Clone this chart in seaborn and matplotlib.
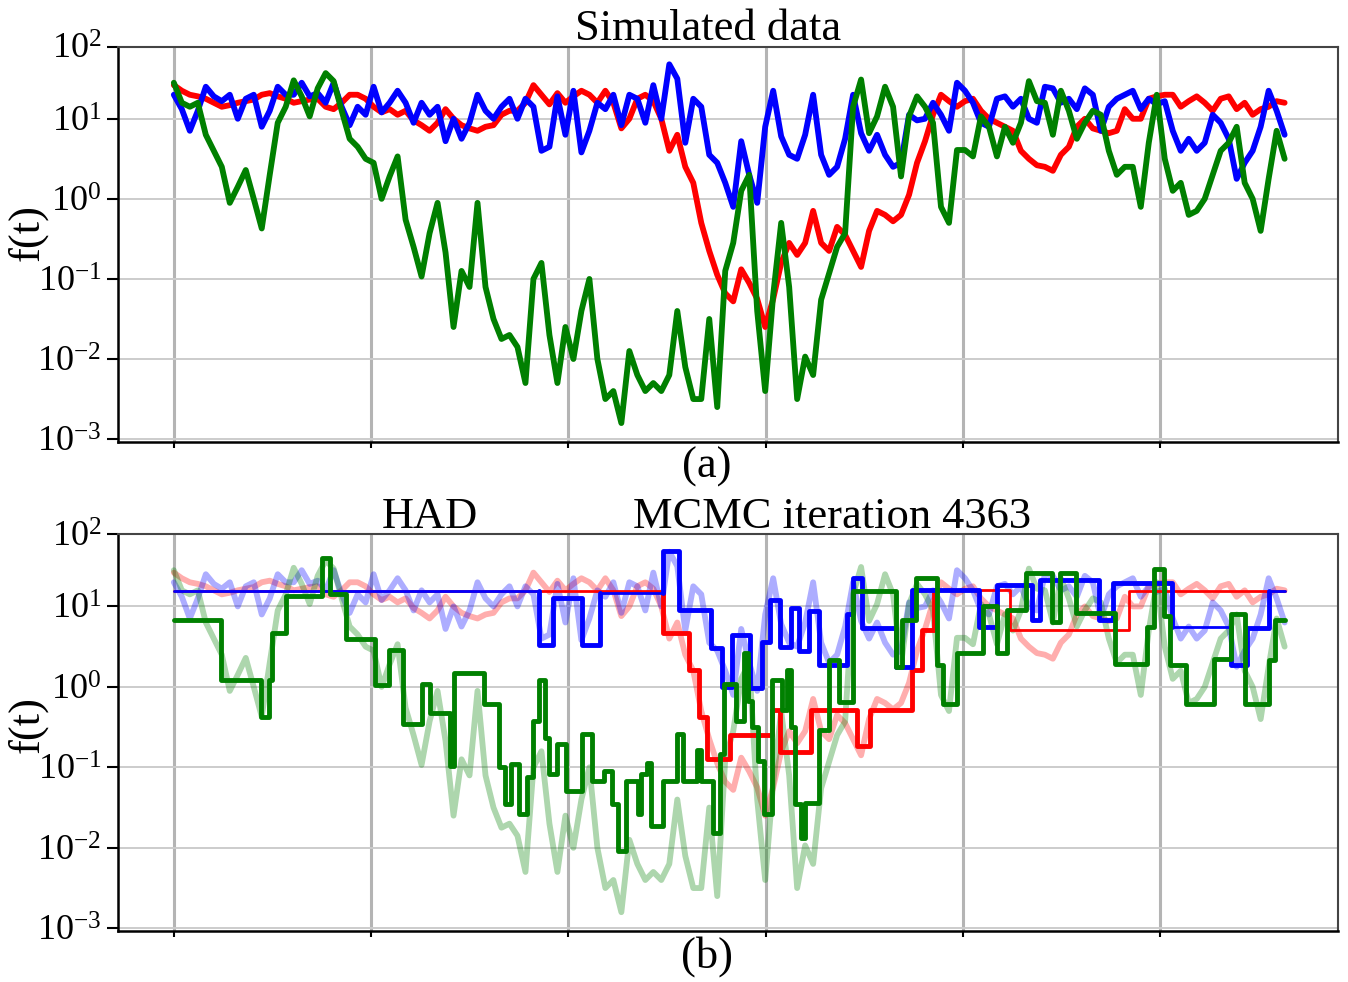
import numpy as np
import pandas as pd
import matplotlib
matplotlib.use("Agg")
import matplotlib.pyplot as plt
import seaborn as sns
from matplotlib.ticker import FixedLocator, FixedFormatter, NullFormatter, NullLocator

# ---------------- data (log10 of f(t)) ----------------
T_STEP = 40.5
N_POINTS = 140

red_log10 = [
    1.42, 1.35, 1.3, 1.28, 1.25, 1.2, 1.15, 1.17, 1.2, 1.22, 1.24, 1.3, 1.32, 1.28, 1.25, 1.2, 1.22, 1.24,
    1.25, 1.15, 1.12, 1.2, 1.3, 1.3, 1.25, 1.15, 1.08, 1.12, 1.05, 1.1, 0.98, 0.92, 0.85, 0.95, 1.12, 1.0,
    0.92, 0.88, 0.85, 0.9, 0.92, 1.05, 1.1, 1.1, 1.2, 1.42, 1.3, 1.18, 1.32, 1.2, 1.28, 1.35, 1.3, 1.2,
    1.35, 1.2, 0.88, 1.0, 1.25, 1.3, 1.22, 1.0, 0.6, 0.8, 0.4, 0.2, -0.3, -0.65, -0.95, -1.18, -1.28, -0.88,
    -1.05, -1.25, -1.6, -1.25, -0.8, -0.55, -0.7, -0.55, -0.15, -0.55, -0.65, -0.35, -0.45, -0.65, -0.85,
    -0.4, -0.15, -0.2, -0.28, -0.2, 0.05, 0.45, 0.72, 1.05, 1.3, 1.22, 1.15, 1.22, 1.25, 1.1, 1.0, 0.95,
    0.9, 0.85, 0.6, 0.5, 0.42,
    0.4, 0.35, 0.55, 0.65, 0.9, 1.0, 0.88, 0.85, 0.82, 0.85, 1.12, 1.0, 1.0, 1.25, 1.28, 1.3, 1.3, 1.15,
    1.22, 1.28, 1.2, 1.1, 1.25, 1.28, 1.12, 1.2, 1.05, 1.12, 1.15, 1.22, 1.2,
]

blue_log10 = [
    1.3, 1.12, 0.85, 1.1, 1.4, 1.28, 1.22, 1.3, 1.0, 1.25, 1.3, 0.9, 1.1, 1.4, 1.3, 1.3, 1.45, 1.28, 1.32,
    1.2, 1.45, 1.15, 0.92, 1.15, 1.05, 1.4, 1.08, 1.2, 1.35, 1.2, 0.95, 1.2, 1.05, 1.15, 0.72, 1.0,
    0.75, 0.95, 1.3, 1.1, 1.0, 1.15, 1.25, 1.0, 1.25, 1.15, 0.6, 0.65, 1.28, 0.8, 1.35, 0.58, 0.85, 1.2,
    1.12, 1.3, 0.92, 1.3, 1.25, 0.95, 1.42, 1.0, 1.68, 1.5, 0.7, 1.25, 1.15, 0.55, 0.45, 0.2, -0.1, 0.72, 0.3,
    -0.05, 0.9, 1.35, 0.78, 0.55, 0.5, 0.8, 1.3, 0.55, 0.3, 0.4, 0.75, 1.3, 0.82, 0.6, 0.8, 0.55, 0.4, 0.45,
    1.05, 0.98, 1.0, 1.2, 1.05, 0.85, 1.45, 1.35, 1.2, 0.95, 0.9, 1.25, 1.28, 1.15, 1.25, 1.0, 0.95,
    1.4, 1.38, 1.2, 1.25, 1.12, 1.38, 1.3, 0.85, 1.15, 1.25, 1.3, 1.35, 1.12, 1.25, 1.18, 1.22, 0.85, 0.6,
    0.75, 0.6, 0.7, 1.05, 0.95, 0.75, 0.25, 0.45, 0.6, 0.9, 1.35, 1.1, 0.8,
]

green_log10 = [
    1.45, 1.2, 1.15, 1.2, 0.8, 0.6, 0.4, -0.05, 0.15, 0.36, 0.0, -0.37, 0.3, 0.95, 1.15, 1.48, 1.28, 1.03,
    1.38, 1.57, 1.47, 1.1, 0.75, 0.65, 0.5, 0.45, 0.0, 0.28, 0.53, -0.26, -0.6, -0.97, -0.43, -0.05, -0.67, -1.6,
    -0.9, -1.1, -0.05, -1.1, -1.5, -1.75, -1.7, -1.85, -2.3, -1.0, -0.8, -1.7, -2.3, -1.6, -2.0, -1.4, -1.0,
    -2.0, -2.5, -2.4, -2.8, -1.9, -2.2, -2.4, -2.3, -2.4, -2.2, -1.4, -2.1, -2.5, -2.5, -1.5, -2.6, -0.9,
    -0.55, 0.1, 0.3,
    -1.4, -2.4, -1.2, -0.3, -1.1, -2.5, -1.97, -2.2, -1.26, -0.93, -0.6, -0.43, 1.15, 1.49, 0.82, 1.03, 1.4,
    1.15, 0.28, 1.03, 1.28, 1.15, 0.95, -0.1, -0.3, 0.61, 0.61, 0.53, 1.03, 0.9, 0.53, 0.9, 0.7, 0.95, 1.47, 1.22,
    1.2, 0.8, 1.35, 1.1, 0.75, 0.95, 1.1, 1.05, 0.6, 0.3, 0.4, 0.4, -0.1, 0.7, 1.3, 0.5, 0.1, 0.2, -0.2,
    -0.15, 0.0, 0.3, 0.6, 0.7, 0.9, 0.2, 0.0, -0.4, 0.25, 0.85, 0.5,
]

# piecewise-constant MCMC state (panel b): change times and log10 levels
red_step_t = [0, 2480, 2610, 2660, 2700, 2820, 3030, 3070, 3230, 3460, 3530, 3740, 3790, 3850, 4240, 4840, 5630]
red_step_log10 = [1.19, 0.67, 0.21, -0.37, -0.9, -0.6, -0.29, -0.81, -0.29, -0.73, -0.29, 0.21, 0.71,
                  1.21, 0.71, 1.19, 1.19]

blue_step_t = [0, 1850, 1920, 2070, 2160, 2480, 2560, 2720, 2780, 2830, 2920, 2980, 3020, 3070, 3130,
               3170, 3220, 3270, 3410, 3440, 3490, 3660, 3740, 4080, 4170, 4350, 4390, 4690, 4760, 5060,
               5360, 5440, 5550, 5630]
blue_step_log10 = [1.19, 0.52, 1.1, 0.52, 1.17, 1.69, 0.96, 0.48, 0.0, 0.65, -0.02, 0.56, 1.08, 0.5, 0.98,
                   0.44, 0.94, 0.27, 0.9, 1.35, 0.73, 0.25, 1.21, 0.75, 1.27, 0.83, 1.33, 0.83, 1.29, 0.75,
                   0.27, 0.73, 1.19, 1.19]

green_step_t = [0, 240, 440, 480, 500, 570, 750, 790, 870, 1020, 1090, 1160, 1260, 1300, 1400, 1420, 1570,
                1650, 1680, 1710, 1750, 1790, 1820, 1850, 1880, 1900, 1940, 1990, 2070, 2120, 2180, 2220,
                2250, 2290, 2350, 2370, 2400, 2420, 2480, 2550, 2580, 2650, 2670, 2730, 2770, 2790, 2850,
                2890, 2910, 2930, 2960, 2990, 3030, 3080, 3110, 3130, 3150, 3180, 3200, 3270, 3320, 3370,
                3440, 3660, 3690, 3760, 3870, 3900, 3970, 4100, 4170, 4220, 4320, 4450, 4490, 4570, 4770,
                4930, 4970, 5020, 5050, 5130, 5270, 5360, 5430, 5550, 5580, 5630]
green_step_log10 = [0.83, 0.08, -0.37, 0.08, 0.67, 1.13, 1.6, 1.15, 0.6, 0.02, 0.46, -0.46, 0.04, -0.33,
                    -0.98, 0.17, -0.21, -1.0, -1.46, -0.96, -1.58, -1.12, -0.42, 0.08, -0.63, -1.08, -0.71,
                    -1.29, -0.58, -1.17, -1.04, -1.46, -2.04, -1.17, -1.58, -1.08, -0.94, -1.73, -1.17,
                    -0.58, -1.17, -0.79, -1.17, -1.81, -0.83, 0.04, -0.42, 0.42, -0.17, -0.5, -0.92, -1.58,
                    0.08, -0.29, 0.21, -0.5, -1.46, -1.88, -1.44, -0.54, 0.33, -0.19, 1.19, 0.25, 0.83,
                    1.35, 0.27, -0.21, 0.42, 1.0, 0.42, 0.96, 1.42, 0.81, 1.42, 0.92, 0.29, 0.75, 1.46,
                    0.88, 0.27, -0.21, 0.35, 0.9, -0.21, 0.33, 0.83, 0.83]

x_ticks = [0, 1000, 2000, 3000, 4000, 5000]
y_tick_exponents = [-3, -2, -1, 0, 1]
title_top = "Simulated data"
label_a = "(a)"
label_b = "(b)"
title_b_left = "HAD"
title_b_right = "MCMC iteration 4363"
y_label = "f(t)"

# ---------------- style ----------------
sns.set_style("white")
plt.rcParams['font.family'] = ['Liberation Serif', 'DejaVu Serif']
plt.rcParams['mathtext.fontset'] = 'custom'
plt.rcParams['mathtext.rm'] = 'Liberation Serif'
plt.rcParams['mathtext.it'] = 'Liberation Serif:italic'
plt.rcParams['mathtext.bf'] = 'Liberation Serif:bold'
plt.rcParams['mathtext.default'] = 'regular'
for key in ['text.color', 'axes.labelcolor', 'xtick.color', 'ytick.color']:
    plt.rcParams[key] = 'black'

RED, BLUE, GREEN = '#ff0000', '#0000ff', '#008000'
LW_MAIN = 4.2
LW_THICK = 3.5
LW_THIN = 2.0
FAINT_ALPHA = 0.32
FS = 32
FS_TICK = 26
YLIM = (10 ** -3.03, 10 ** 1.9)
XLIM = (-283, 5900)

t = np.arange(N_POINTS) * T_STEP
series_df = pd.DataFrame({
    't': np.concatenate([t, t, t]),
    'f': 10 ** np.concatenate([red_log10, blue_log10, green_log10]),
    'series': ['red'] * N_POINTS + ['blue'] * N_POINTS + ['green'] * N_POINTS,
})


def step_frame(ts, vs):
    xs, ys = [], []
    for i in range(len(ts) - 1):
        xs += [ts[i], ts[i + 1]]
        ys += [vs[i], vs[i]]
    return pd.DataFrame({'t': xs, 'f': 10 ** np.array(ys, dtype=float)})


def thick_frame(ts, vs, thin_idx):
    nseg = len(ts) - 1
    runs, cur = [], []
    for i in range(nseg):
        if i in thin_idx:
            if cur:
                runs.append(cur)
                cur = []
        else:
            cur.append(i)
    if cur:
        runs.append(cur)
    rows = []
    for r, run in enumerate(runs):
        a, b = run[0], run[-1]
        if a > 0:
            rows.append((r, ts[a], vs[a - 1]))
        for i in run:
            rows.append((r, ts[i], vs[i]))
            rows.append((r, ts[i + 1], vs[i]))
        if b + 1 < nseg:
            rows.append((r, ts[b + 1], vs[b + 1]))
    df = pd.DataFrame(rows, columns=['run', 't', 'lv'])
    df['f'] = 10 ** df['lv']
    return df


def style_axes(ax):
    ax.set_yscale('log')
    ax.set_ylim(*YLIM)
    ax.set_xlim(*XLIM)
    ax.xaxis.set_major_locator(FixedLocator(x_ticks))
    ax.xaxis.set_major_formatter(NullFormatter())
    ax.xaxis.set_minor_locator(NullLocator())
    ylocs = [10.0 ** e for e in y_tick_exponents] + [YLIM[1]]
    ylabs = [r'$10^{%d}$' % e for e in y_tick_exponents] + [r'$10^{2}$']
    ax.yaxis.set_major_locator(FixedLocator(ylocs))
    ax.yaxis.set_major_formatter(FixedFormatter(ylabs))
    ax.yaxis.set_minor_locator(NullLocator())
    ax.tick_params(axis='y', which='major', left=True, direction='out', length=8, width=1.5,
                   labelsize=FS_TICK, pad=4, colors='black')
    ax.tick_params(axis='x', which='major', bottom=True, direction='out', length=4, width=1.5,
                   colors='black')
    ax.set_axisbelow(True)
    ax.grid(True, axis='x', color='#b4b4b4', lw=2.2)
    ax.grid(True, axis='y', color='#cccccc', lw=1.4)
    for side in ['left', 'bottom']:
        ax.spines[side].set_color('black')
        ax.spines[side].set_linewidth(1.8)
    for side in ['top', 'right']:
        ax.spines[side].set_color('#444444')
        ax.spines[side].set_linewidth(1.5)
    ax.set_xlabel('')
    ax.set_ylabel(y_label, fontsize=FS, va='center', color='black')


fig = plt.figure(figsize=(13.48, 9.82), dpi=100)
W, H = 1348.0, 982.0
ax1 = fig.add_axes([118 / W, 1 - 441.5 / H, 1220 / W, (441.5 - 46.7) / H])
ax2 = fig.add_axes([118 / W, 1 - 930.7 / H, 1220 / W, (930.7 - 534) / H])

colors = {'red': RED, 'blue': BLUE, 'green': GREEN}

# ---- panel (a)
for name in ['red', 'blue', 'green']:
    sub = series_df[series_df['series'] == name]
    sns.lineplot(data=sub, x='t', y='f', ax=ax1, color=colors[name], linewidth=LW_MAIN,
                 estimator=None, sort=False, legend=False)

# ---- panel (b): faint simulated data
for name in ['red', 'blue', 'green']:
    sub = series_df[series_df['series'] == name]
    sns.lineplot(data=sub, x='t', y='f', ax=ax2, color=colors[name], linewidth=LW_MAIN,
                 alpha=FAINT_ALPHA, estimator=None, sort=False, legend=False)

# ---- panel (b): step functions
red_thin = [0, 13, 14, 15]
blue_thin = [0, 4, 29, 32]
green_thin = []

for ts, vs, thin, col in [(red_step_t, red_step_log10, red_thin, RED),
                          (blue_step_t, blue_step_log10, blue_thin, BLUE),
                          (green_step_t, green_step_log10, green_thin, GREEN)]:
    full = step_frame(ts, vs)
    sns.lineplot(data=full, x='t', y='f', ax=ax2, color=col, linewidth=LW_THIN,
                 estimator=None, sort=False, legend=False)
    thick = thick_frame(ts, vs, thin)
    if len(thick):
        sns.lineplot(data=thick, x='t', y='f', units='run', ax=ax2, color=col, linewidth=LW_THICK,
                     estimator=None, sort=False, legend=False)

style_axes(ax1)
style_axes(ax2)
ax1.yaxis.set_label_coords(-0.074, 0.53)
ax2.yaxis.set_label_coords(-0.074, 0.52)

ax1.text(0.484, 1.017, title_top, transform=ax1.transAxes, ha='center', va='baseline', fontsize=FS,
         color='black')
ax2.text(0.256, 1.015, title_b_left, transform=ax2.transAxes, ha='center', va='baseline', fontsize=FS,
         color='black')
ax2.text(0.585, 1.015, title_b_right, transform=ax2.transAxes, ha='center', va='baseline', fontsize=FS,
         color='black')
fig.text(707 / W, 1 - 467 / H, label_a, ha='center', va='center', fontsize=FS, color='black')
fig.text(707 / W, 1 - 957 / H, label_b, ha='center', va='center', fontsize=FS, color='black')

fig.savefig('out.png', dpi=100)
